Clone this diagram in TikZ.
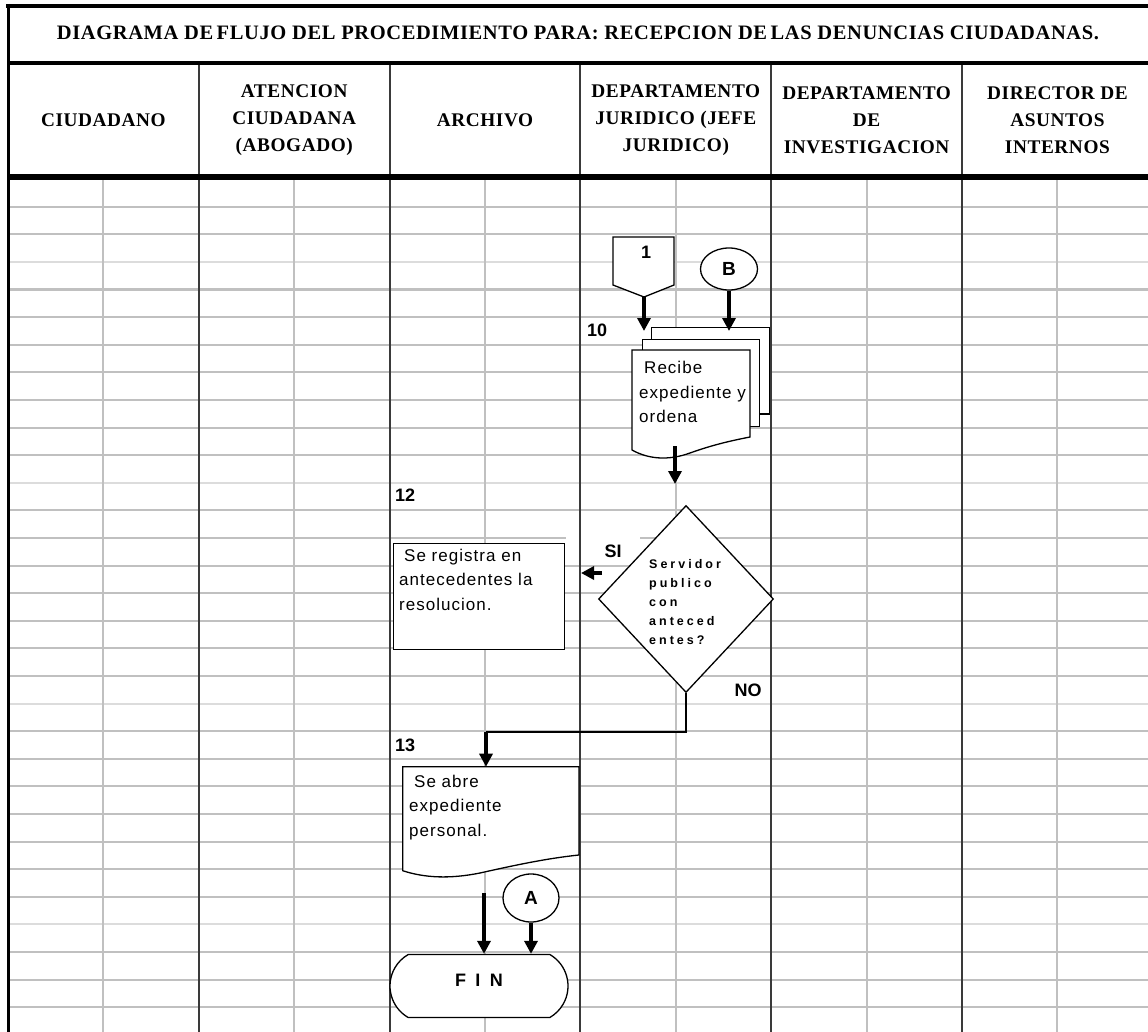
\documentclass[tikz,border=0pt]{standalone}
\usepackage{fontspec}
\setmainfont{Liberation Serif}
\setsansfont{Liberation Sans}
\newfontfamily\headfont[LetterSpace=3]{Liberation Serif}
\newfontfamily\boxfont[LetterSpace=6]{Liberation Sans}
\newfontfamily\wideboxfont[LetterSpace=24]{Liberation Sans}
\usetikzlibrary{shapes,arrows.meta,positioning}
\definecolor{gridgray}{HTML}{C0C0C0}
\definecolor{gridlight}{HTML}{DCDCDC}
\definecolor{lanegray}{HTML}{3A3A3A}

\begin{document}
\begin{tikzpicture}[x=1pt,y=-1pt,
  gridline/.style={gridgray, line width=2pt},
  laneline/.style={lanegray, line width=2pt},
  frameline/.style={black, line width=4pt},
  box/.style={draw, fill=white, line width=1.3pt, inner sep=0pt},
  flowarrow/.style={-{Triangle[width=13pt,length=13pt]}, line width=3.5pt},
  thinline/.style={line width=1.5pt},
  boxtxt/.style={inner sep=0pt, anchor=north west, align=left, font=\boxfont\fontsize{17}{24.5}\selectfont},
  numlbl/.style={inner sep=0pt, font=\sffamily\bfseries\fontsize{18}{18}\selectfont},
  lanehead/.style={align=center, font=\headfont\bfseries\fontsize{19.3}{27}\selectfont}]
  \useasboundingbox (0,0) rectangle (1148,1032);
  \fill[white] (0,0) rectangle (1148,1032);
  % grid of the sheet
  \foreach \k in {0,...,29}
    \draw[gridline] (8,{206.7+27.6*\k}) -- (1148,{206.7+27.6*\k});
  \foreach \k in {2,10,18,26}
    \draw[gridline,gridlight] (8,{206.7+27.6*\k}) -- (1148,{206.7+27.6*\k});
  \foreach \i in {0,...,5}
    \draw[gridline] ({103.4+190.8*\i},177) -- ({103.4+190.8*\i},1032);
  \fill[white] (566,530) rectangle (640,560);
  \foreach \i in {1,...,5}
    \draw[laneline] ({8+190.8*\i},63) -- ({8+190.8*\i},1032);
  \draw[frameline] (6,6) -- (1148,6);
  \draw[black, line width=3pt] (8,4) -- (8,1032);
  \draw[frameline] (8,63) -- (1148,63);
  \draw[black, line width=5.5pt] (8,177) -- (1148,177);
  % header
  \node[font=\headfont\bfseries\fontsize{20.5}{24}\selectfont, anchor=base] (title) at (578,40)
    {DIAGRAMA DE\,FLUJO DEL PROCEDIMIENTO PARA: RECEPCION DE\,LAS DENUNCIAS CIUDADANAS.};
  \foreach \i/\name in {0/CIUDADANO, 1/{ATENCION\\CIUDADANA\\(ABOGADO)}, 2/ARCHIVO,
      3/{DEPARTAMENTO\\JURIDICO (JEFE\\JURIDICO)}, 4/{DEPARTAMENTO\\DE\\INVESTIGACION},
      5/{DIRECTOR DE\\ASUNTOS\\INTERNOS}}
    \node[lanehead] (head_\i) at ({103.4+190.8*\i},120) {\name};
  % step 10
  \draw[box] (613,237) -- (674,237) -- (674,285) -- (644,297) -- (613,285) -- cycle;
  \node[numlbl] (conn_one) at (646,252) {1};
  \coordinate (one_tip) at (644,297);
  \coordinate (one_in) at (644,331);
  \node[box, ellipse, minimum width=57pt, minimum height=42pt, font=\sffamily\bfseries\fontsize{19}{19}\selectfont] (conn_b) at (729,269) {B};
  \coordinate (b_in) at (729,331);
  \draw[box] (651.7,327.7) rectangle (769.3,414);
  \draw[box] (642.7,339.3) rectangle (759.3,426.7);
  \draw[box] (632,350) -- (750,350) -- (750,437) .. controls (735,440) and (715,444) .. (690,453)
    .. controls (668,461) and (648,459) .. (632,450) -- cycle;
  \node[boxtxt] (doc_recibe) at (639,361) {\hspace{5pt}Recibe\\expediente y\\ordena};
  \node[numlbl, anchor=west] (lbl_ten) at (587,330) {10};
  \draw[flowarrow] (one_tip) -- (one_in);
  \draw[flowarrow] (conn_b.south) -- (b_in);
  \coordinate (recibe_out) at (675,446);
  \coordinate (dec_in) at (675,484);
  \draw[flowarrow] (recibe_out) -- (dec_in);
  % step 12
  \node[box, diamond, minimum width=175pt, minimum height=187pt] (dec_serv) at (686,599) {};
  \node[inner sep=0pt, anchor=north west, align=left, font=\wideboxfont\bfseries\fontsize{12.5}{19}\selectfont] (dec_txt) at (649,559.4)
    {Servidor\\publico\\con\\anteced\\entes?};
  \node[numlbl] (lbl_si) at (613,551) {SI};
  \coordinate (si_from) at (602,573);
  \coordinate (si_to) at (581,573);
  \draw[flowarrow] (si_from) -- (si_to);
  \node[box, minimum width=171pt, minimum height=106pt] (box_registro) at (478.8,596.3) {};
  \node[boxtxt] (registro_txt) at (399,548.6) {\hspace{5pt}Se registra en\\antecedentes la\\resolucion.};
  \node[numlbl, anchor=west] (lbl_twelve) at (395,495) {12};
  \node[numlbl] (lbl_no) at (748,690) {NO};
  % step 13
  \coordinate (join_13) at (486,732);
  \coordinate (abre_top) at (486,766.7);
  \draw[thinline] (dec_serv.south) |- (join_13);
  \draw[box] (402.7,766.7) -- (579,766.7) -- (579,855) .. controls (550,858) and (520,864) .. (480,873)
    .. controls (450,879) and (425,878) .. (402.7,870.7) -- cycle;
  \draw[flowarrow] (join_13) -- (abre_top);
  \node[boxtxt] (abre_txt) at (409,774.5) {\hspace{5pt}Se abre\\expediente\\personal.};
  \node[numlbl, anchor=west] (lbl_thirteen) at (395,745) {13};
  % end
  \node[box, ellipse, minimum width=56pt, minimum height=48pt, font=\sffamily\bfseries\fontsize{19}{19}\selectfont] (conn_a) at (531,898) {A};
  \node[box, rounded rectangle, rounded rectangle arc length=120, minimum width=178pt, minimum height=63pt] (fin) at (479,986) {};
  \node[font=\wideboxfont\bfseries\fontsize{18}{18}\selectfont] (fin_lbl) at (479,980) {F I N};
  \coordinate (fin_from) at (484,893);
  \draw[flowarrow] (fin_from) -- (fin_from |- fin.north);
  \draw[flowarrow] (conn_a.south) -- (conn_a.south |- fin.north);
\end{tikzpicture}
\end{document}
